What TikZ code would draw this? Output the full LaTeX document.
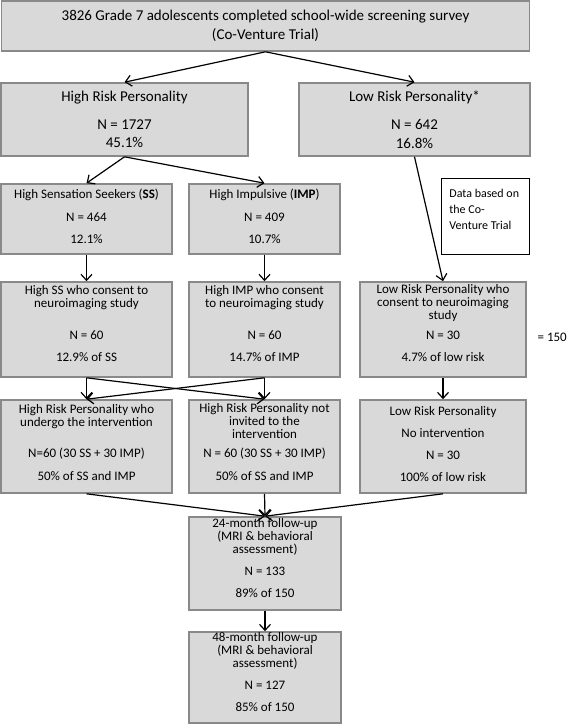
\documentclass[tikz,border=0pt]{standalone}
\usepackage{fontspec}
\setmainfont{Carlito}
\usetikzlibrary{positioning,arrows.meta}
\tikzset{>={Straight Barb[length=6pt,width=11pt]}}
\definecolor{boxfill}{HTML}{D9D9D9}
\definecolor{boxline}{HTML}{898989}
% extra depth below the last line, to lift the text a little
\newcommand{\padlow}[1]{\rule[-#1]{0pt}{#1}}
\tikzset{
  flowbox/.style 2 args={draw=boxline, line width=1.6pt, fill=boxfill, align=center,
    inner sep=0pt, minimum width=#1, minimum height=#2},
  notebox/.style={draw=black, line width=0.8pt, fill=white, inner xsep=8pt, inner ysep=10.5pt, anchor=north west},
  bigtext/.style={font=\fontsize{15}{18.5}\selectfont},
  smalltext/.style={font={\fontsize{13}{13}\selectfont\lineskiplimit-50pt\relax}},
  notetext/.style={font=\fontsize{12}{16}\selectfont},
  flow/.style={->, line width=1.2pt}
}

\begin{document}
\begin{tikzpicture}[x=1pt,y=-1pt]
    \useasboundingbox (0,0) rectangle (567,725);
    % set up the nodes
    \node[flowbox={528}{50}, bigtext] (screen) at (265.5,26) {3826 Grade 7 adolescents completed school-wide screening survey\\(Co-Venture Trial)};
    \node[flowbox={247}{73}, bigtext] (high) at (124.5,119.5) {High Risk Personality\\[9.5pt]N = 1727\\45.1\%};
    \node[flowbox={231}{73}, bigtext] (low) at (414.5,119.5) {Low Risk Personality*\\[9.5pt]N = 642\\16.8\%};
    \node[flowbox={171}{70}, smalltext] (ss) at (86.5,219) {High Sensation Seekers (\textbf{SS})\\[10pt]N = 464\\[9pt]12.1\%\padlow{5pt}};
    \node[flowbox={151}{70}, smalltext] (imp) at (264.5,219) {High Impulsive (\textbf{IMP})\\[10pt]N = 409\\[9pt]10.7\%\padlow{5pt}};
    \node[notebox, notetext] (note) at (441,178) {\parbox[t][55pt][t]{72pt}{Data based on\\the Co-\\Venture Trial}};
    \node[flowbox={171}{95}, smalltext] (ssok) at (86.5,329.5) {High SS who consent to\\neuroimaging study\\[19pt]N = 60\\[9pt]12.9\% of SS\padlow{12pt}};
    \node[flowbox={151}{95}, smalltext] (impok) at (264.5,329.5) {High IMP who consent\\to neuroimaging study\\[19pt]N = 60\\[9pt]14.7\% of IMP\padlow{12pt}};
    \node[flowbox={166}{95}, smalltext] (lowok) at (443,329.5) {Low Risk Personality who\\consent to neuroimaging\\study\\[7pt]N = 30\\[9pt]4.7\% of low risk\padlow{13pt}};
    \node[smalltext, anchor=east, inner sep=0pt] (total) at (567,337) {= 150};
    \node[flowbox={171}{93}, smalltext] (ssin) at (86.5,446.5) {High Risk Personality who\\undergo the intervention\\[18.5pt]N=60 (30 SS + 30 IMP)\\[10pt]50\% of SS and IMP\padlow{8.5pt}};
    \node[flowbox={151}{93}, smalltext] (nonin) at (264.5,446.5) {High Risk Personality not\\invited to the\\intervention\\[6pt]N = 60 (30 SS + 30 IMP)\\[10pt]50\% of SS and IMP\padlow{8.5pt}};
    \node[flowbox={166}{93}, smalltext] (lowin) at (443,446.5) {Low Risk Personality\\[9pt]No intervention\\[9pt]N = 30\\[9pt]100\% of low risk\padlow{5pt}};
    \node[flowbox={152}{93}, smalltext] (fup24) at (265,563.5) {24-month follow-up\\(MRI \& behavioral\\assessment)\\[9.5pt]N = 133\\[9pt]89\% of 150\padlow{11.5pt}};
    \node[flowbox={152}{91}, smalltext] (fup48) at (265,677.5) {48-month follow-up\\(MRI \& behavioral\\assessment)\\[9.5pt]N = 127\\[9pt]85\% of 150\padlow{11.5pt}};
    % draw arrows between them
    \draw[flow] (screen.south)--(high.north);
    \draw[flow] (screen.south)--(low.north);
    \draw[flow] (high.south)--(ss.north);
    \draw[flow] (high.south)--(imp.north);
    \draw[flow] (low.south)--(lowok.north);
    \draw[flow] (ss)--(ssok);
    \draw[flow] (imp)--(impok);
    \draw[flow] (ssok.south)--(ssin.north);
    \draw[flow] (ssok.south)--(nonin.north);
    \draw[flow] (impok.south)--(ssin.north);
    \draw[flow] (impok.south)--(nonin.north);
    \draw[flow] (lowok)--(lowin);
    \draw[flow] (ssin.south)--(fup24.north);
    \draw[flow] (nonin.south)--(fup24.north);
    \draw[flow] (lowin.south)--(fup24.north);
    \draw[flow] (fup24)--(fup48);
\end{tikzpicture}
\end{document}
